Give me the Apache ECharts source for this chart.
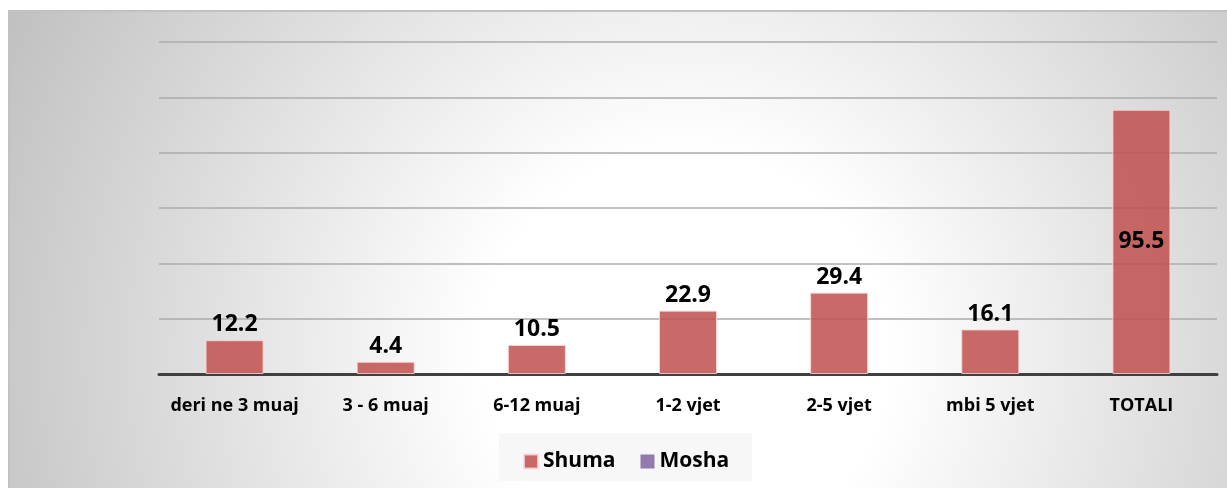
<!DOCTYPE html>
<html>
<head>
<meta charset="utf-8">
<script src="https://cdn.jsdelivr.net/npm/echarts@6/dist/echarts.min.js"></script>
<style>
  html, body { margin: 0; padding: 0; background: #fff; }
  #main { width: 1227px; height: 488px; }
</style>
</head>
<body>
<div id="main"></div>
<script>
// kategorite
var categories = ['deri ne 3 muaj', '3 - 6 muaj', '6-12 muaj', '1-2 vjet', '2-5 vjet', 'mbi 5 vjet', 'TOTALI'];
// vlerat
var shumaValues = [12.2, 4.4, 10.5, 22.9, 29.4, 16.1, 95.5];
var moshaValues = [];
var yTicks = [0, 20, 40, 60, 80, 100, 120];

var chart = echarts.init(document.getElementById('main'));

var shumaData = shumaValues.map(function (v, i) {
  // totali e ka etiketen brenda shtylles
  if (categories[i] === 'TOTALI') {
    return { value: v, label: { position: 'inside' } };
  }
  return v;
});

var font = 'Open Sans';

chart.setOption({
  animation: false,
  graphic: [
    {
      type: 'rect',
      z: -10,
      silent: true,
      shape: { x: 9, y: 11, width: 1230, height: 490 },
      style: {
        fill: new echarts.graphic.RadialGradient(0.55, 0.7, 1.65, [
          { offset: 0, color: '#ffffff' },
          { offset: 0.25, color: '#ffffff' },
          { offset: 1, color: '#bababa' }
        ]),
        stroke: '#c2c2c2',
        lineWidth: 2
      }
    },
    {
      type: 'rect',
      z: -9,
      silent: true,
      shape: { x: 499, y: 433, width: 253, height: 48 },
      style: { fill: '#f7f7f7' }
    }
  ],
  legend: {
    data: ['Shuma', 'Mosha'],
    left: 518,
    top: 446,
    itemWidth: 14,
    itemHeight: 14,
    itemGap: 25,
    icon: 'rect',
    textStyle: { fontFamily: font, fontWeight: 'bold', fontSize: 21, color: '#000' }
  },
  grid: { left: 159, right: 10, top: 42, bottom: 114 },
  xAxis: {
    type: 'category',
    data: categories,
    axisLine: { lineStyle: { color: '#404040', width: 3 } },
    axisTick: { show: false },
    axisLabel: {
      interval: 0,
      margin: 23,
      fontFamily: font,
      fontWeight: 'bold',
      fontSize: 18,
      color: '#000'
    }
  },
  yAxis: {
    type: 'value',
    min: yTicks[0],
    max: yTicks[yTicks.length - 1],
    interval: 20,
    axisLabel: { show: false },
    axisLine: { show: false },
    axisTick: { show: false },
    splitLine: { lineStyle: { color: '#ababab', width: 1.5 } }
  },
  series: [
    {
      name: 'Shuma',
      type: 'bar',
      barWidth: 58,
      barGap: '-100%',
      data: shumaData,
      itemStyle: {
        color: 'rgba(192,80,77,0.85)',
        borderColor: 'rgba(255,215,215,0.8)',
        borderWidth: 1
      },
      label: {
        show: true,
        position: 'top',
        distance: 4,
        fontFamily: font,
        fontWeight: 'bold',
        fontSize: 23,
        color: '#000'
      }
    },
    {
      name: 'Mosha',
      type: 'bar',
      barWidth: 58,
      data: moshaValues,
      itemStyle: { color: 'rgba(128,100,162,0.85)' }
    }
  ]
});
</script>
</body>
</html>
